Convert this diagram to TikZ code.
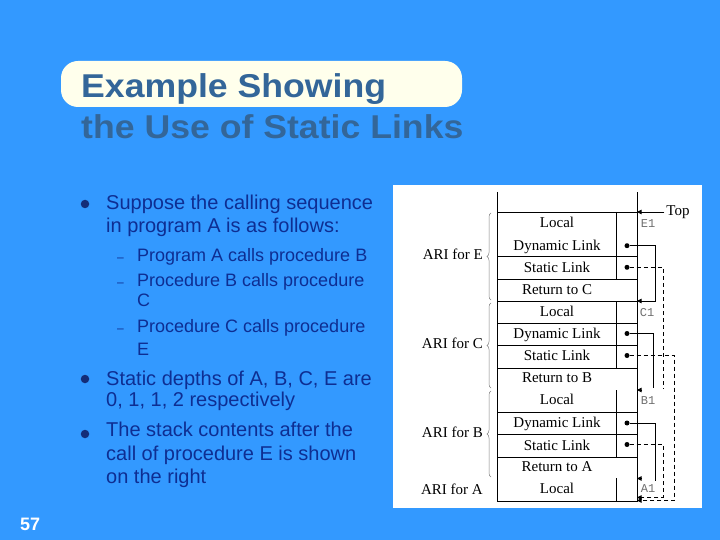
\documentclass[tikz,border=0pt]{standalone}
\usepackage{fontspec}
\setmainfont{Liberation Serif}
\newfontfamily\arialf{Liberation Sans}
\newfontfamily\courf{Liberation Mono}
\usetikzlibrary{decorations.pathreplacing,arrows.meta}
\definecolor{bgblue}{RGB}{51,153,255}
\definecolor{pillcol}{RGB}{255,255,236}
\definecolor{titlecol}{RGB}{51,102,153}
\definecolor{navy}{RGB}{14,46,146}
\definecolor{bulletcol}{RGB}{20,45,120}
\definecolor{lblgray}{RGB}{110,110,110}
\begin{document}
\begin{tikzpicture}[x=1pt,y=-1pt,
 cell/.style={inner sep=0pt,text height=9.8pt,text depth=0pt,font=\fontsize{15}{17}\selectfont},
 mono/.style={inner sep=0pt,text height=7pt,text depth=0pt,text=lblgray,font=\courf\fontsize{12}{14}\selectfont},
 gridline/.style={line width=0.9pt},
 dot/.style={circle,fill,inner sep=0pt,minimum size=5pt},
 solidlink/.style={line width=0.9pt},
 dashlink/.style={line width=0.9pt,dash pattern=on 4pt off 3pt},
 ptr/.style={-{Triangle[length=4.5pt,width=4.5pt]},line width=0.9pt},
 brc/.style={decorate,decoration={brace,amplitude=4pt},draw=gray,line width=0.5pt},
 body/.style={anchor=base west,inner sep=0pt,text=navy,font=\arialf\fontsize{20}{24}\selectfont},
 subt/.style={anchor=base west,inner sep=0pt,text=navy,font=\arialf\fontsize{18}{22}\selectfont},
 dashmark/.style={anchor=base west,inner sep=0pt,text=navy,font=\arialf\fontsize{12}{14}\selectfont},
 bul/.style={circle,fill=bulletcol,inner sep=0pt,minimum size=8.5pt},
 ttl/.style={anchor=base west,inner sep=0pt,text=titlecol,font=\arialf\bfseries\fontsize{33}{40}\selectfont},
]
\useasboundingbox (0,0) rectangle (720,540);
\fill[bgblue] (0,0) rectangle (720,540);
% title
\fill[pillcol,rounded corners=17pt] (61,61) rectangle (462,107);
\node[ttl] (t1) at (81,97.3) {\scalebox{1.08}[1]{Example Showing}};
\node[ttl] (t2) at (81,138.3) {\scalebox{1.08}[1]{the Use of Static Links}};
% bullets
\node[bul] (b1) at (85,204) {};
\node[body] (l1) at (106,210) {Suppose the calling sequence};
\node[body] (l2) at (106,232.3) {in program A is as follows:};
\node[dashmark] (d1) at (117,261) {–};
\node[subt] (s1) at (137,261) {Program A calls procedure B};
\node[dashmark] (d2) at (117,286) {–};
\node[subt] (s2) at (137,286) {Procedure B calls procedure};
\node[subt] (s2b) at (137,306.7) {C};
\node[dashmark] (d3) at (117,332.7) {–};
\node[subt] (s3) at (137,332.7) {Procedure C calls procedure};
\node[subt] (s3b) at (137,355) {E};
\node[bul] (b2) at (85,379) {};
\node[body] (l3) at (106,385) {Static depths of A, B, C, E are};
\node[body] (l4) at (106,406.7) {0, 1, 1, 2 respectively};
\node[bul] (b3) at (85,434) {};
\node[body] (l5) at (106,436.7) {The stack contents after the};
\node[body] (l6) at (106,460) {call of procedure E is shown};
\node[body] (l7) at (106,483.3) {on the right};
\node[anchor=base west,inner sep=0pt,text=white,font=\arialf\bfseries\fontsize{18}{20}\selectfont] (pg) at (20,530) {57};
% panel
\fill[white] (393,185) rectangle (702,508);
% stack grid
\draw[gridline] (497,192) -- (497,501) -- (637,501) -- (637,192);
\foreach \y in {212,256,279,301,323,345,368,412,434,457}
  \draw[gridline] (497,\y) -- (637,\y);
\draw[gridline] (616,212) -- (616,279) (616,301) -- (616,368) (616,390) -- (616,457) (616,478) -- (616,501);
% cells
\node[cell] (eL) at (557,222.3) {Local};
\node[cell] (eD) at (557,245.7) {Dynamic Link};
\node[cell] (eS) at (557,267.3) {Static Link};
\node[cell] (eR) at (557,290) {Return to C};
\node[cell] (cL) at (557,311.5) {Local};
\node[cell] (cD) at (557,333.5) {Dynamic Link};
\node[cell] (cS) at (557,356) {Static Link};
\node[cell] (cR) at (557,378) {Return to B};
\node[cell] (bL) at (557,400) {Local};
\node[cell] (bD) at (557,423) {Dynamic Link};
\node[cell] (bS) at (557,445.5) {Static Link};
\node[cell] (bR) at (557,467) {Return to A};
\node[cell] (aL) at (557,489) {Local};
% left labels and braces
\node[cell,anchor=east] (ariE) at (483,255) {ARI for E};
\node[cell,anchor=east] (ariC) at (483,344) {ARI for C};
\node[cell,anchor=east] (ariB) at (483,433) {ARI for B};
\node[cell,anchor=east] (ariA) at (483,489.5) {ARI for A};
\draw[brc] (491,300) -- (491,213);
\draw[brc] (491,388) -- (491,303);
\draw[brc] (491,477) -- (491,391);
% frame pointers
\coordinate (E1) at (637,212);
\coordinate (C1) at (637,301);
\coordinate (B1) at (637,390);
\coordinate (A1) at (637,478.5);
\coordinate (A1a) at (637,497.5);
\coordinate (A1b) at (637,500.5);
\node[mono] (lE1) at (648,224) {E1};
\node[mono] (lC1) at (647,313) {C1};
\node[mono] (lB1) at (648,401) {B1};
\node[mono] (lA1) at (648,488.5) {A1};
\node[inner sep=0pt,text height=9.8pt,text depth=0pt,font=\fontsize{15}{17}\selectfont] (top) at (678,210.7) {Top};
\draw[ptr] (top.west) ++(-2,1.3) coordinate (topstart) -- (E1);
% dots
\node[dot] (dE) at (627,245.7) {};
\node[dot] (sE) at (627,267.3) {};
\node[dot] (dC) at (627,333.5) {};
\node[dot] (sC) at (627,355.5) {};
\node[dot] (dB) at (627,423) {};
\node[dot] (sB) at (627,444.5) {};
% links
\draw[solidlink,ptr] (dE) -- (655.7,245.7) -- (655.7,301) -- (C1);
\draw[dashlink] (sE) -- (663,267.3) -- (663,389);
\draw[solidlink] (dC) -- (653.5,333.5) -- (653.5,388);
\draw[ptr] (642,390) -- (B1);
\draw[dashlink,ptr] (sC) -- (674.5,355.5) -- (674.5,500.5) -- (A1b);
\draw[solidlink] (dB) -- (655,423) -- (655,481);
\draw[ptr] (642,478.5) -- (A1);
\draw[dashlink,ptr] (sB) -- (663,444.5) -- (663,497.5) -- (A1a);
\end{tikzpicture}
\end{document}
